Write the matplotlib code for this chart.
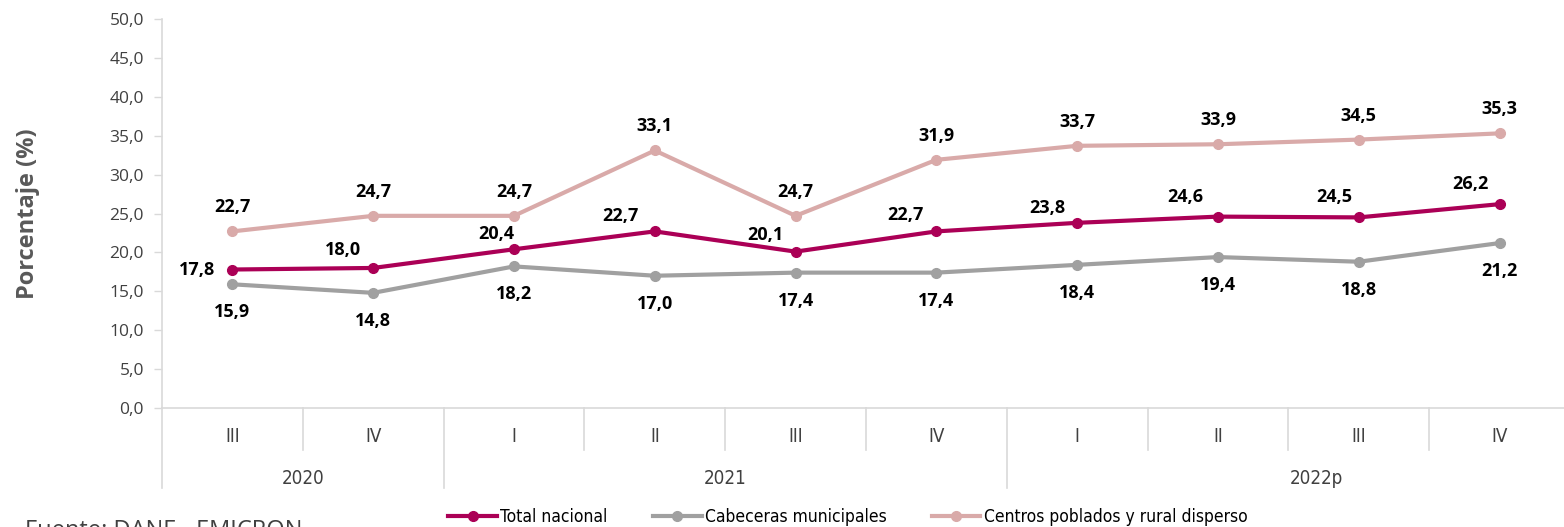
import matplotlib
matplotlib.use("Agg")
import matplotlib.pyplot as plt
from matplotlib.lines import Line2D
from matplotlib.font_manager import fontManager

# ---------------- data ----------------
quarters = ["III", "IV", "I", "II", "III", "IV", "I", "II", "III", "IV"]
years = ["2020", "2021", "2022p"]
year_spans = [(0, 1), (2, 5), (6, 9)]
series_names = ["Total nacional", "Cabeceras municipales", "Centros poblados y rural disperso"]
total_nacional = [17.8, 18.0, 20.4, 22.7, 20.1, 22.7, 23.8, 24.6, 24.5, 26.2]
cabeceras = [15.9, 14.8, 18.2, 17.0, 17.4, 17.4, 18.4, 19.4, 18.8, 21.2]
centros = [22.7, 24.7, 24.7, 33.1, 24.7, 31.9, 33.7, 33.9, 34.5, 35.3]
y_ticks = [0, 5, 10, 15, 20, 25, 30, 35, 40, 45, 50]

# ---------------- style ----------------
names = {f.name for f in fontManager.ttflist}
main_font = "Open Sans" if "Open Sans" in names else "DejaVu Sans"
has_cond = any(f.name == "DejaVu Sans" and f.stretch in ("condensed", 300, "semi-condensed") for f in fontManager.ttflist)
if "Liberation Sans Narrow" in names:
    narrow = dict(family=["Liberation Sans Narrow", "DejaVu Sans"])
elif has_cond:
    narrow = dict(family=["DejaVu Sans"], stretch="condensed")
else:
    narrow = dict(family=[main_font, "DejaVu Sans"])
plt.rcParams["font.family"] = [main_font, "DejaVu Sans"]

c_total = "#AB0056"
c_cab = "#A0A0A0"
c_cen = "#D9AAA9"
axis_col = "#D9D9D9"
txt_col = "#404040"

W, H = 1564, 527
fig = plt.figure(figsize=(W / 100, H / 100), dpi=100)
left_px, right_px, top_px, bot_px = 162, 1570, 19, 408
ax = fig.add_axes([left_px / W, 1 - bot_px / H, (right_px - left_px) / W, (bot_px - top_px) / H])
ax_h = bot_px - top_px

x = list(range(len(quarters)))
ax.plot(x, cabeceras, color=c_cab, lw=3, marker="o", ms=7, zorder=3)
ax.plot(x, centros, color=c_cen, lw=3, marker="o", ms=7, zorder=3)
ax.plot(x, total_nacional, color=c_total, lw=3, marker="o", ms=7, zorder=4)

ax.set_xlim(-0.5, len(quarters) - 0.5)
ax.set_ylim(0, 50)
ax.set_yticks(y_ticks)
ax.set_yticklabels([f"{v:.1f}".replace(".", ",") for v in y_ticks], fontsize=12.5, color=txt_col)
ax.tick_params(axis="y", length=6, width=1, color=axis_col, pad=7)
ax.set_xticks([])
for s in ["top", "right"]:
    ax.spines[s].set_visible(False)
ax.spines["left"].set_color(axis_col)
ax.spines["bottom"].set_color(axis_col)
ax.spines["left"].set_linewidth(1.2)
ax.spines["bottom"].set_linewidth(1.2)

ax.set_ylabel("Porcentaje (%)", fontsize=17, fontweight="bold", color="#595959")
ax.yaxis.set_label_coords(-(left_px - 40) / (right_px - left_px), 0.5)

def fmt(v):
    return f"{v:.1f}".replace(".", ",")

px2pt = 72 / 100
lab_kw = dict(textcoords="offset points", ha="center", va="center", fontsize=13,
              fontweight="bold", color="black", zorder=6)
for i, v in enumerate(centros):
    ax.annotate(fmt(v), (i, v), xytext=(0, 24 * px2pt), **lab_kw)
for i, v in enumerate(cabeceras):
    ax.annotate(fmt(v), (i, v), xytext=(0, -28 * px2pt), **lab_kw)
tot_off = [(-35, 0), (-30, 18), (-18, 15), (-34, 15), (-30, 17), (-31, 16), (-30, 15), (-33, 20), (-25, 20), (-29, 20)]
for i, v in enumerate(total_nacional):
    dx, dy = tot_off[i]
    ax.annotate(fmt(v), (i, v), xytext=(dx * px2pt, dy * px2pt), **lab_kw)

# category axis (two levels)
tr = ax.get_xaxis_transform()
q_y = -29 / ax_h
y_y = -70 / ax_h
q_sep = -42 / ax_h
y_sep = -80 / ax_h
for i, q in enumerate(quarters):
    ax.text(i, q_y, q, transform=tr, ha="center", va="center", fontsize=13.5,
            color=txt_col, clip_on=False, **narrow)
year_starts = [a for a, b in year_spans]
for i in range(len(quarters) + 1):
    bnd = i - 0.5
    low = y_sep if (i in year_starts or i == 0) else q_sep
    ax.plot([bnd, bnd], [0, low], transform=tr, color=axis_col, lw=1.2, clip_on=False)
year_dx = [0, 0, 28]
for (a, b), yl, dx in zip(year_spans, years, year_dx):
    ax.annotate(yl, ((a + b) / 2, y_y), xycoords=tr, xytext=(dx * px2pt, 0), textcoords="offset points",
                ha="center", va="center", fontsize=13.5, color=txt_col, annotation_clip=False, **narrow)

# legend
handles = [Line2D([], [], color=c, lw=3, marker="o", ms=7) for c in (c_total, c_cab, c_cen)]
prop = {"size": 12.5}
prop.update(narrow)
fig.legend(handles, series_names, loc="center", bbox_to_anchor=(848 / W, 1 - 517 / H), ncol=3,
           frameon=False, handlelength=2.8, handletextpad=0.2, columnspacing=2.6,
           prop=prop, labelcolor="black")

fig.text(25 / W, 1 - 537 / H, "Fuente: DANE - EMICRON", ha="left", va="baseline", fontsize=17, color=txt_col)

fig.savefig("out.png", dpi=100)
